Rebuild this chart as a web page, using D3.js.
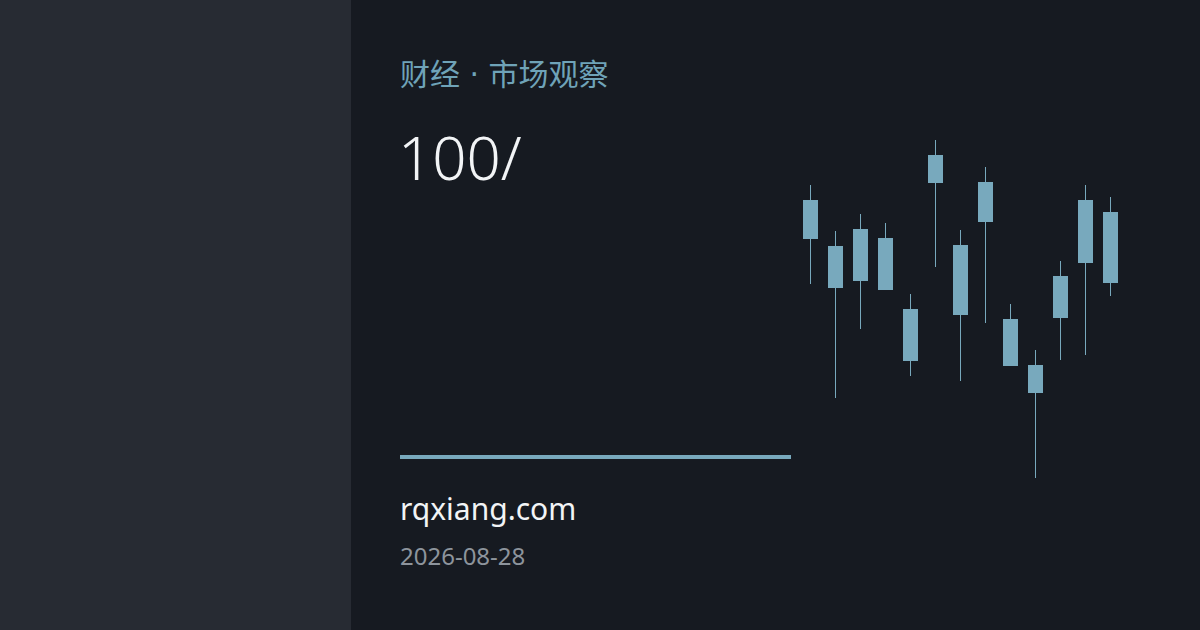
<!DOCTYPE html>
<html><head><meta charset="utf-8">
<script src="https://cdn.jsdelivr.net/npm/d3@7/dist/d3.min.js"></script>
<style>html,body{margin:0;padding:0;background:#161a21;}svg{display:block;}</style>
</head><body>
<script>
const categories = ["1","2","3","4","5","6","7","8","9","10","11","12","13"];
const highs  = [109.5,104.9,106.6,105.7, 98.6,114.0,105.0,111.3, 97.6, 93.0,101.9,109.5,108.3];
const opens  = [108.0,103.4,105.1,104.2, 97.1,112.5,103.5,109.8, 96.1, 91.5,100.4,108.0,106.8];
const closes = [104.1, 99.2, 99.9, 99.0, 91.9,109.7, 96.5,105.8, 91.4, 88.7, 96.2,101.7, 99.7];
const lows   = [ 99.6, 88.2, 95.1, 99.0, 90.4,101.3, 89.9, 95.7, 91.4, 80.2, 92.0, 92.5, 98.4];
const titleText = "财经 · 市场观察";
const headline = "100/";
const site = "rqxiang.com";
const dateText = "2026-08-28";

const W = 1200, H = 630;
const svg = d3.select("body").append("svg").attr("width", W).attr("height", H);
svg.append("rect").attr("width", W).attr("height", H).attr("fill", "#161a21");
svg.append("rect").attr("width", 351).attr("height", H).attr("fill", "#272b33");

const x = d3.scaleBand().domain(categories).range([798, 1123]).paddingInner(0.4).paddingOuter(0.2);
const y = d3.scaleLinear().domain([80, 114]).range([480, 140]);

const data = categories.map((c, i) => ({c, h: highs[i], o: opens[i], cl: closes[i], l: lows[i]}));
const g = svg.append("g");
const col = "#78a9bd";
g.selectAll("line.wick").data(data).join("line").attr("class", "wick")
  .attr("x1", d => x(d.c) + x.bandwidth() / 2).attr("x2", d => x(d.c) + x.bandwidth() / 2)
  .attr("y1", d => y(d.h)).attr("y2", d => y(d.l))
  .attr("stroke", col).attr("stroke-width", 1);
g.selectAll("rect.body").data(data).join("rect").attr("class", "body")
  .attr("x", d => x(d.c)).attr("width", x.bandwidth())
  .attr("y", d => y(Math.max(d.o, d.cl))).attr("height", d => Math.abs(y(d.o) - y(d.cl)))
  .attr("fill", col);

svg.append("text").attr("x", 400).attr("y", 85).text(titleText)
  .attr("font-family", "'DejaVu Sans', 'Noto Sans CJK SC', sans-serif").attr("font-size", 30).attr("fill", "#6fa3b8");
svg.append("text").attr("x", 398).attr("y", 180).text(headline)
  .attr("font-family", "'Noto Sans', sans-serif").attr("font-size", 60).attr("font-weight", 300).attr("fill", "#f2f4f6");
svg.append("rect").attr("x", 400).attr("y", 455).attr("width", 391).attr("height", 4).attr("fill", col);
svg.append("text").attr("x", 400).attr("y", 520).text(site)
  .attr("font-family", "'Noto Sans', sans-serif").attr("font-size", 30).attr("fill", "#f2f4f6");
svg.append("text").attr("x", 400).attr("y", 565).text(dateText)
  .attr("font-family", "'Noto Sans', sans-serif").attr("font-size", 24).attr("fill", "#8d949c");
</script>
</body></html>
